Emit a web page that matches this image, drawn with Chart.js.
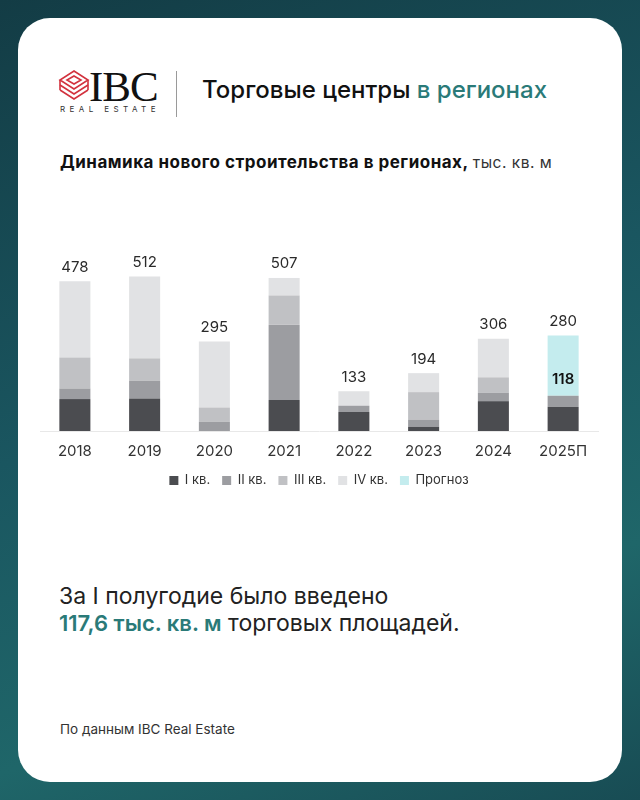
<!DOCTYPE html>
<html>
<head>
<meta charset="utf-8">
<script src="https://cdn.jsdelivr.net/npm/chart.js@4/dist/chart.umd.min.js"></script>
<style>
  html, body { margin: 0; padding: 0; }
  body {
    width: 640px; height: 800px; position: relative; overflow: hidden;
    background: linear-gradient(160deg, #133c45 0%, #1a5660 45%, #1f6669 75%, #184c54 100%);
    font-family: 'Inter', 'Noto Sans', sans-serif;
  }
  .card {
    position: absolute; left: 18px; top: 18px; width: 604px; height: 764px;
    background: #fff; border-radius: 32px;
  }
  .abs { position: absolute; white-space: nowrap; }
  .ibc { left: 89px; top: 62px; font-family: 'Liberation Serif', 'DejaVu Serif', serif; font-size: 43px; color: #111; letter-spacing: -1px; }
  .re { left: 60px; top: 104px; font-size: 8px; letter-spacing: 4.4px; color: #333; }
  .sep { left: 176px; top: 71px; width: 1px; height: 46px; background: #9a9a9a; }
  .title { left: 202px; top: 75px; font-size: 24px; font-weight: 500; color: #111; }
  .teal { color: #2a7a78; }
  .sub { left: 60px; top: 152px; font-size: 17px; font-weight: 700; color: #111; letter-spacing: 0.5px; }
  .sub span { font-weight: 400; font-size: 15.5px; color: #333; letter-spacing: 0.5px; }
  .chartBox { left: 20px; top: 190px; width: 600px; height: 307px; }
  .txt1 { left: 59px; top: 583px; font-size: 23px; color: #222; line-height: 27px; }
  .txt1 b { color: #2a7a78; font-weight: 600; font-size: 22px; }
  .foot { left: 60px; top: 721px; font-size: 13.5px; color: #333; }
</style>
</head>
<body>
<div class="card"></div>
<svg class="abs" style="left:58px;top:70px" width="32" height="34" viewBox="0 0 32 34">
  <g fill="none" stroke="#d2323e" stroke-width="1.6">
    <polygon points="16,1 30,10 16,19 2,10"/>
    <polygon points="16,6 23,10 16,14 9,10"/>
    <polyline points="2,15 16,24 30,15"/>
    <polyline points="2,20 16,29 30,20"/>
    <polyline points="2,10 2,20"/>
    <polyline points="30,10 30,20"/>
  </g>
</svg>
<div class="abs ibc">IBC</div>
<div class="abs re">REAL ESTATE</div>
<div class="abs sep"></div>
<div class="abs title">Торговые центры <span class="teal">в регионах</span></div>
<div class="abs sub">Динамика нового строительства в регионах, <span>тыс. кв. м</span></div>
<div class="abs chartBox"><canvas id="buildChart"></canvas></div>
<div class="abs txt1">За I полугодие было введено<br><b>117,6 тыс. кв. м</b> торговых площадей.</div>
<div class="abs foot">По данным IBC Real Estate</div>

<script>
const years = ['2018', '2019', '2020', '2021', '2022', '2023', '2024', '2025П'];
const q1 = [106, 108, 0, 103, 63, 14, 99, 80];
const q2 = [35, 59, 31, 250, 21, 24, 28, 37];
const q3 = [103, 74, 47, 97, 0, 91, 51, 0];
const q4 = [253, 272, 219, 58, 48, 63, 128, 0];
const forecast = [null, null, null, null, null, null, null, 200];
const totals = ['478', '512', '295', '507', '133', '194', '306', '280'];
const halfYearLabel = '118';

const fontFamily = "'Inter', 'Noto Sans', sans-serif";

const valueLabels = {
    id: 'valueLabels',
    afterDatasetsDraw(chart) {
        const ctx = chart.ctx;
        ctx.save();
        ctx.textAlign = 'center';
        ctx.textBaseline = 'middle';
        years.forEach((year, i) => {
            let top = Infinity;
            let x = 0;
            chart.data.datasets.forEach((ds, d) => {
                const el = chart.getDatasetMeta(d).data[i];
                if (el && ds.data[i]) {
                    top = Math.min(top, el.y);
                    x = el.x;
                }
            });
            ctx.font = '15px ' + fontFamily;
            ctx.fillStyle = '#2a2a2a';
            ctx.fillText(totals[i], x, top - 14);
        });
        // label inside the forecast bar
        const fEl = chart.getDatasetMeta(4).data[7];
        ctx.font = '600 15px ' + fontFamily;
        ctx.fillStyle = '#111';
        ctx.fillText(halfYearLabel, fEl.x, fEl.base - 16);
        ctx.restore();
    }
};

const ctx = document.getElementById('buildChart').getContext('2d');
new Chart(ctx, {
    type: 'bar',
    data: {
        labels: years,
        datasets: [
            { label: 'I кв.', data: q1, backgroundColor: '#4b4c50' },
            { label: 'II кв.', data: q2, backgroundColor: '#9c9da1' },
            { label: 'III кв.', data: q3, backgroundColor: '#c0c1c4' },
            { label: 'IV кв.', data: q4, backgroundColor: '#e1e2e4' },
            { label: 'Прогноз', data: forecast, backgroundColor: '#c4ecee' }
        ]
    },
    options: {
        responsive: true,
        maintainAspectRatio: false,
        animation: false,
        categoryPercentage: 1,
        barPercentage: 0.445,
        layout: {
            padding: { left: 20, right: 22, top: 0, bottom: 0 }
        },
        scales: {
            x: {
                stacked: true,
                grid: { display: false, drawTicks: false },
                border: { color: '#e8e8e8', width: 1 },
                ticks: { color: '#333', padding: 11, font: { size: 15, family: fontFamily } },
                afterFit(scale) { scale.height -= 9; }
            },
            y: {
                stacked: true,
                display: false,
                min: 0,
                max: 800
            }
        },
        plugins: {
            legend: {
                position: 'bottom',
                labels: {
                    boxWidth: 9,
                    boxHeight: 9,
                    padding: 12,
                    color: '#333',
                    font: { size: 13, family: fontFamily }
                }
            },
            tooltip: { enabled: false }
        }
    },
    plugins: [valueLabels]
});
</script>
</body>
</html>
